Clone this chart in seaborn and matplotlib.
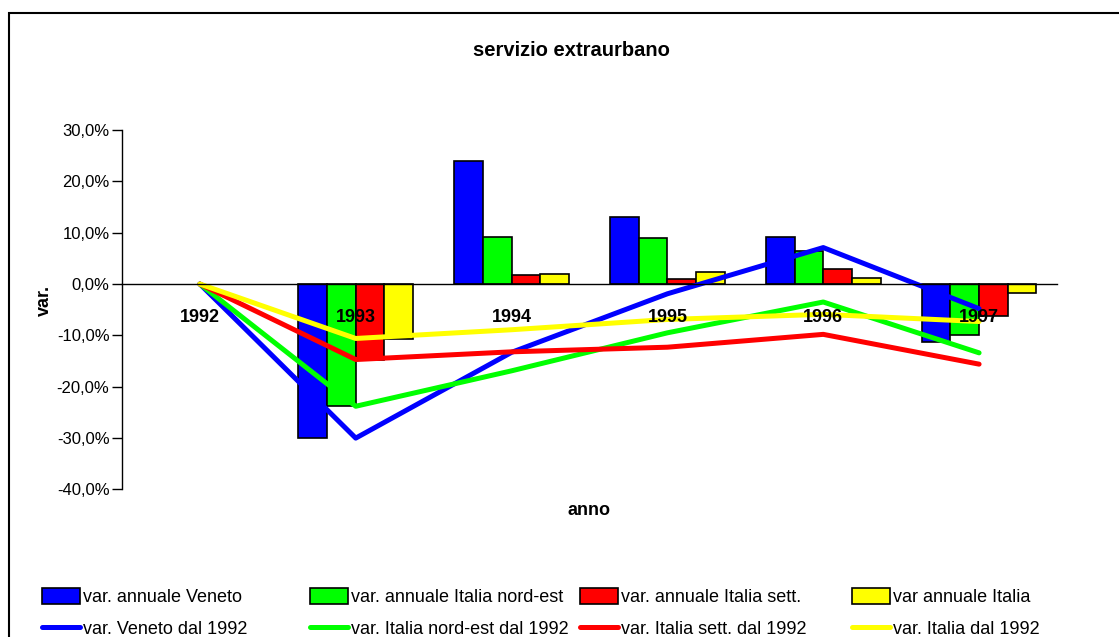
import matplotlib
matplotlib.use("Agg")
import matplotlib.pyplot as plt
import numpy as np
import pandas as pd
import seaborn as sns
from matplotlib.lines import Line2D
from matplotlib.patches import Patch, Rectangle
from matplotlib.ticker import FixedLocator, FuncFormatter

# --- data (percent) ---
years = ["1992", "1993", "1994", "1995", "1996", "1997"]

annual_veneto = [np.nan, -30.0, 23.9, 13.1, 9.2, -11.3]
annual_nordest = [np.nan, -23.8, 9.1, 8.9, 6.4, -10.0]
annual_sett = [np.nan, -14.8, 1.8, 1.0, 3.0, -6.3]
annual_italia = [np.nan, -10.7, 1.9, 2.3, 1.2, -1.7]

cum_veneto = [0.0, -30.0, -13.3, -1.9, 7.1, -4.8]
cum_nordest = [0.0, -23.8, -16.9, -9.5, -3.5, -13.4]
cum_sett = [0.0, -14.7, -13.2, -12.3, -9.8, -15.6]
cum_italia = [0.0, -10.6, -8.9, -6.9, -5.9, -7.3]

bar_labels = ["var. annuale Veneto", "var. annuale Italia nord-est",
              "var. annuale Italia sett.", "var annuale Italia"]
line_labels = ["var. Veneto dal 1992", "var. Italia nord-est dal 1992",
               "var. Italia sett. dal 1992", "var. Italia dal 1992"]
colors = ["#0000FF", "#00FF00", "#FF0000", "#FFFF00"]

bars = pd.DataFrame({
    "anno": years * 4,
    "serie": np.repeat(bar_labels, len(years)),
    "var": annual_veneto + annual_nordest + annual_sett + annual_italia,
})
lines = pd.DataFrame({
    "pos": list(range(len(years))) * 4,
    "serie": np.repeat(line_labels, len(years)),
    "var": cum_veneto + cum_nordest + cum_sett + cum_italia,
})

sns.set_style("white")
plt.rcParams["font.family"] = ["Liberation Sans", "DejaVu Sans"]
plt.rcParams["text.color"] = "black"
plt.rcParams["axes.labelcolor"] = "black"
plt.rcParams["xtick.color"] = "black"
plt.rcParams["ytick.color"] = "black"

fig = plt.figure(figsize=(11.19, 6.37), dpi=100)
ax = fig.add_axes([0.109, 0.2316, 0.8356, 0.5644])

sns.barplot(data=bars, x="anno", y="var", hue="serie", order=years,
            hue_order=bar_labels, palette=colors, width=0.735,
            edgecolor="black", linewidth=1.2, saturation=1, legend=False, ax=ax)

sns.lineplot(data=lines, x="pos", y="var", hue="serie", hue_order=line_labels,
             palette=colors, linewidth=3.6, legend=False, ax=ax,
             solid_capstyle="round")

ax.set_xlim(-0.5, 5.5)
ax.set_ylim(-40, 30)
ax.set_yticks(range(-40, 31, 10))
ax.yaxis.set_major_formatter(FuncFormatter(lambda v, p: f"{v:.1f}%".replace(".", ",")))

# x axis sits on the zero line, ticks between categories
ax.spines["bottom"].set_position(("data", 0))
ax.spines["top"].set_visible(False)
ax.spines["right"].set_visible(False)
for sp in ("left", "bottom"):
    ax.spines[sp].set_color("black")
    ax.spines[sp].set_linewidth(1.0)
ax.set_xticks(range(len(years)))
ax.set_xticklabels(years, fontweight="bold", fontsize=13)
ax.xaxis.set_minor_locator(FixedLocator(np.arange(0.5, 5.6, 1.0)))
ax.tick_params(axis="x", which="major", length=0, pad=18)
ax.tick_params(axis="x", which="minor", length=12, direction="inout", width=1)
ax.tick_params(axis="y", length=7, width=1, left=True, pad=2, labelsize=12)
ax.xaxis.set_zorder(10)  # year labels drawn over bars and lines

ax.set_xlabel("anno", fontweight="bold", fontsize=13)
ax.xaxis.set_label_coords((589 - 122) / 935, -0.035)
ax.set_ylabel("var.", fontweight="bold", fontsize=13)
ax.yaxis.set_label_coords(-0.074, 0.527)

fig.text(571 / 1119, 1 - 50 / 637, "servizio extraurbano", ha="center", va="center",
         fontweight="bold", fontsize=14.5)

# outer frame of the chart
fig.patches.append(Rectangle((9 / 1119, -0.05), 1.1, 1.05 - 13 / 637, transform=fig.transFigure,
                             fill=False, edgecolor="black", linewidth=1.5))

# legend: four columns, bars on top row, lines on bottom row
col_x = [42, 310, 580, 852]
for i in range(4):
    handles = [Patch(facecolor=colors[i], edgecolor="black", linewidth=1.2),
               Line2D([0], [0], color=colors[i], linewidth=3.6, solid_capstyle="round")]
    fig.legend(handles, [bar_labels[i], line_labels[i]], loc="upper left",
               bbox_to_anchor=(col_x[i] / 1119, 1 - 588 / 637), frameon=False,
               borderaxespad=0, borderpad=0, handlelength=2.1, handleheight=1.0,
               handletextpad=0.15, labelspacing=0.75, fontsize=13)

fig.savefig("out.png", dpi=100)
